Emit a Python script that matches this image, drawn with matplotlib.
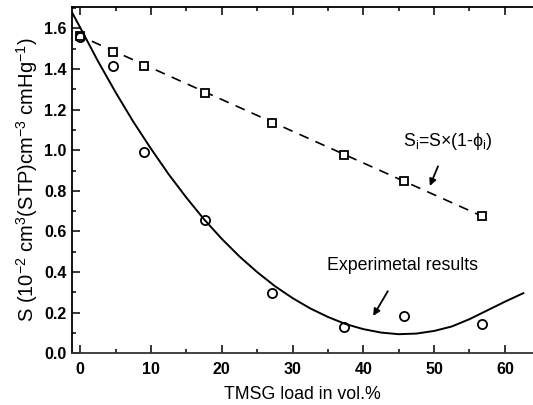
import matplotlib
matplotlib.use("Agg")
import matplotlib.pyplot as plt
from matplotlib.ticker import MultipleLocator, FormatStrFormatter

plt.rcParams['font.family'] = ['Liberation Sans', 'DejaVu Sans']
plt.rcParams['mathtext.fontset'] = 'custom'
plt.rcParams['mathtext.rm'] = 'Liberation Sans'
plt.rcParams['mathtext.it'] = 'Liberation Sans:italic'
plt.rcParams['mathtext.bf'] = 'Liberation Sans:bold'

# TMSG loading (vol.%)
load = [0, 4.7, 9.0, 17.6, 27.1, 37.3, 45.8, 56.7]
# measured solubility coefficient
s_exp = [1.56, 1.415, 0.99, 0.657, 0.296, 0.131, 0.185, 0.143]
# solubility predicted by S_i = S x (1 - phi_i)
s_calc = [1.563, 1.486, 1.417, 1.284, 1.136, 0.977, 0.849, 0.676]

# dashed prediction line (end points)
pred_x = [-0.6, 57.8]
pred_y = [1.572, 0.659]

# smooth trend curve through the experimental results
trend_x = [-1.1, 0.0, 2.5, 5.0, 7.5, 10.0, 12.5, 15.0, 17.5, 20.0, 22.5, 25.0, 27.5,
           30.0, 32.5, 35.0, 37.5, 40.0, 42.5, 45.0, 47.5, 50.0, 52.5, 55.0, 57.5,
           60.0, 62.6]
trend_y = [1.676, 1.605, 1.440, 1.286, 1.141, 1.008, 0.882, 0.767, 0.660, 0.564, 0.477,
           0.400, 0.331, 0.272, 0.221, 0.179, 0.144, 0.119, 0.102, 0.094, 0.097, 0.110,
           0.132, 0.168, 0.211, 0.254, 0.296]

fig = plt.figure(figsize=(5.33, 4.05), dpi=100)
ax = fig.add_axes([0.1357, 0.1277, 0.8647, 0.8543])

ax.plot(trend_x, trend_y, color='black', lw=1.4, solid_joinstyle='round')
ax.plot(pred_x, pred_y, color='black', lw=1.2, dashes=(6, 4.5))
ax.plot(load, s_calc, ls='none', marker='s', ms=6.2, mfc='white', mec='black', mew=1.3)
ax.plot(load, s_exp, ls='none', marker='o', ms=6.6, mfc='none', mec='black', mew=1.3)

ax.set_xlim(-1.1, 64)
ax.set_ylim(0, 1.704)

ax.xaxis.set_major_locator(MultipleLocator(10))
ax.xaxis.set_minor_locator(MultipleLocator(5))
ax.yaxis.set_major_locator(MultipleLocator(0.2))
ax.yaxis.set_minor_locator(MultipleLocator(0.1))
ax.yaxis.set_major_formatter(FormatStrFormatter('%.1f'))

ax.tick_params(which='both', direction='in', top=True, right=False, width=1.1)
ax.tick_params(which='major', length=5.5, labelsize=11.5)
ax.tick_params(axis='y', which='major', pad=4)
ax.tick_params(axis='x', which='major', pad=6)
ax.tick_params(which='minor', length=3)
for lab in ax.get_xticklabels() + ax.get_yticklabels():
    lab.set_fontweight('bold')

ax.spines['right'].set_visible(False)
for side in ('left', 'bottom', 'top'):
    ax.spines[side].set_linewidth(1.3)
ax.spines['bottom'].set_color('#333333')

ax.set_xlabel('TMSG load in vol.%', fontsize=12.8, labelpad=7)
ax.set_ylabel(r'S (10$^{\mathregular{-2}}$ cm$^{\mathregular{3}}$(STP)cm$^{\mathregular{-3}}$ cmHg$^{\mathregular{-1}}$)',
              fontsize=14.5, labelpad=3)

ax.annotate(r'S$_{\mathregular{i}}$=S×(1-ϕ$_{\mathregular{i}}$)', xy=(49.4, 0.824), xytext=(52.0, 1.043),
            ha='center', va='center', fontsize=12.8,
            arrowprops=dict(arrowstyle='-|>', color='black', lw=1.3, mutation_scale=10,
                            shrinkA=9, shrinkB=0))
ax.annotate('Experimetal results', xy=(41.4, 0.184), xytext=(45.6, 0.432),
            ha='center', va='center', fontsize=12.8,
            arrowprops=dict(arrowstyle='-|>', color='black', lw=1.3, mutation_scale=10,
                            shrinkA=12, shrinkB=0))

fig.savefig('out.png', dpi=100)
